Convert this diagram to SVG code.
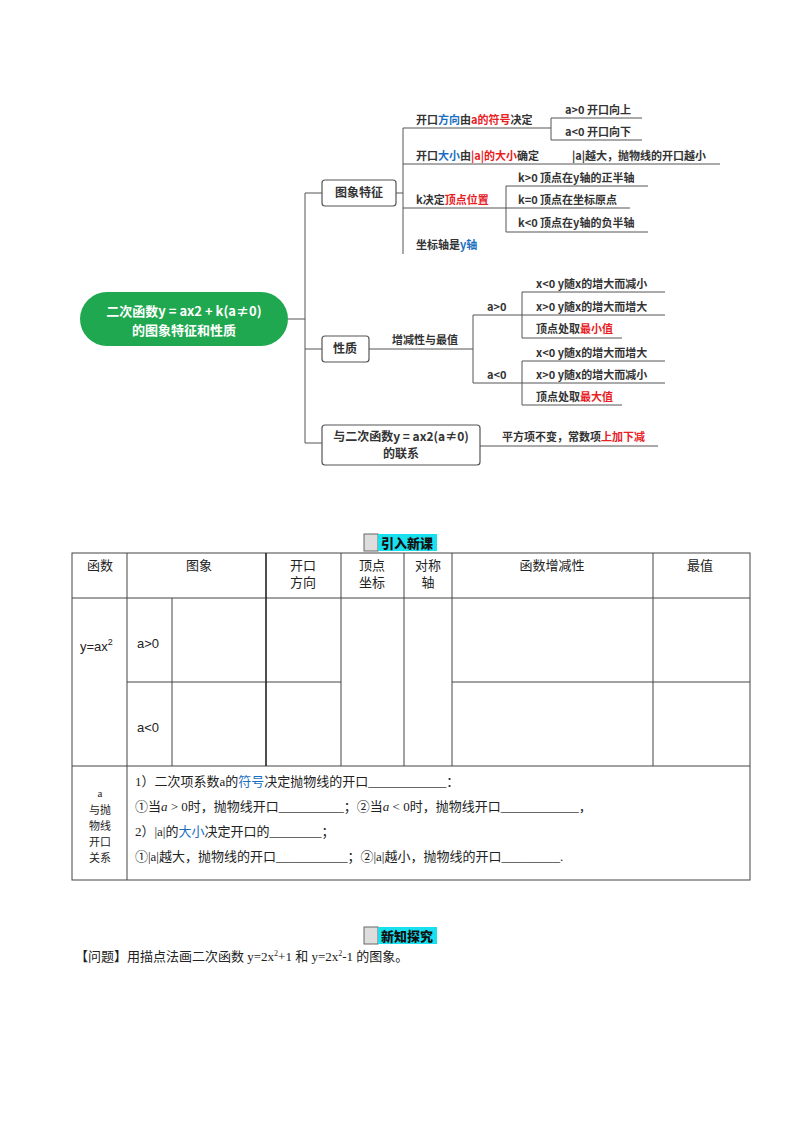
<svg xmlns="http://www.w3.org/2000/svg" width="800" height="1132" viewBox="0 0 800 1132">
<style>
.m{font-family:"Noto Sans CJK SC","Liberation Sans",sans-serif;font-size:11px;font-weight:bold;fill:#333}
.b{fill:#1a6fc0}.r{fill:#e8201f}
.ln{stroke:#555;stroke-width:1;fill:none}
.bx{fill:#fff;stroke:#555;stroke-width:1.2}
.t{font-family:"Liberation Serif","Noto Sans CJK SC",serif;font-size:13px;fill:#222}
.tb{stroke:#444;stroke-width:1;fill:none}
.tb2{stroke:#222;stroke-width:1.6}
</style>
<rect width="800" height="1132" fill="#fff"/>
<g id="connectors">
<path class="ln" d="M288 319H305M305 193V443M305 193H322M305 349H322M305 443H322"/>
<path class="ln" d="M396 193H403M403 128V254M403 128H551M551 118V140M551 118H642M551 140H642M403 164H720M403 208H506M506 186V232M506 186H648M506 208H630M506 232H648"/>
<path class="ln" d="M369 349H473M473 315V383M473 315H522M522 292V338M522 292H665M522 315H665M522 338H622M473 383H522M522 361V405M522 361H665M522 383H665M522 405H622"/>
<path class="ln" d="M480 446H658"/>
</g>
<g id="root">
<rect x="80" y="292" width="208" height="54" rx="27" fill="#1fa84f"/>
<text class="m" x="184" y="316" text-anchor="middle" style="fill:#fff;font-size:13px">二次函数y = ax2 + k(a≠0)</text>
<text class="m" x="184" y="335" text-anchor="middle" style="fill:#fff;font-size:13px">的图象特征和性质</text>
</g>
<g id="n-tuxiang">
<rect class="bx" x="322" y="180" width="74" height="26" rx="3"/>
<text class="m" x="359" y="197" text-anchor="middle" style="font-size:12px">图象特征</text>
<text class="m" x="416" y="124">开口<tspan class="b">方向</tspan>由<tspan class="r">a的符号</tspan>决定</text>
<text class="m" x="565" y="114">a&gt;0 开口向上</text>
<text class="m" x="565" y="136">a&lt;0 开口向下</text>
<text class="m" x="416" y="160">开口<tspan class="b">大小</tspan>由<tspan class="r">|a|的大小</tspan>确定</text>
<text class="m" x="572" y="160">|a|越大，抛物线的开口越小</text>
<text class="m" x="416" y="204">k决定<tspan class="r">顶点位置</tspan></text>
<text class="m" x="518" y="182">k&gt;0 顶点在y轴的正半轴</text>
<text class="m" x="518" y="204">k=0 顶点在坐标原点</text>
<text class="m" x="518" y="227">k&lt;0 顶点在y轴的负半轴</text>
<text class="m" x="416" y="249">坐标轴是<tspan class="b">y轴</tspan></text>
</g>
<g id="n-xingzhi">
<rect class="bx" x="322" y="336" width="47" height="26" rx="3"/>
<text class="m" x="345" y="353" text-anchor="middle" style="font-size:12px">性质</text>
<text class="m" x="392" y="344">增减性与最值</text>
<text class="m" x="487" y="311">a&gt;0</text>
<text class="m" x="536" y="288">x&lt;0  y随x的增大而减小</text>
<text class="m" x="536" y="311">x&gt;0  y随x的增大而增大</text>
<text class="m" x="536" y="333">顶点处取<tspan class="r">最小值</tspan></text>
<text class="m" x="487" y="379">a&lt;0</text>
<text class="m" x="536" y="357">x&lt;0  y随x的增大而增大</text>
<text class="m" x="536" y="379">x&gt;0  y随x的增大而减小</text>
<text class="m" x="536" y="401">顶点处取<tspan class="r">最大值</tspan></text>
</g>
<g id="n-lianxi">
<rect class="bx" x="322" y="425" width="158" height="40" rx="3"/>
<text class="m" x="401" y="441" text-anchor="middle" style="font-size:12px">与二次函数y = ax2(a≠0)</text>
<text class="m" x="401" y="458" text-anchor="middle" style="font-size:12px">的联系</text>
<text class="m" x="502" y="441">平方项不变，常数项<tspan class="r">上加下减</tspan></text>
</g>
<g id="title1">
<rect x="364" y="534" width="14" height="17" fill="#ddd" stroke="#666"/>
<rect x="378" y="534" width="59" height="17" fill="#19e0ef"/>
<text x="407" y="548" text-anchor="middle" style="font-family:'Noto Sans CJK SC',sans-serif;font-size:13px;font-weight:900;fill:#111">引入新课</text>
</g>
<g id="table">
<rect class="tb" x="72" y="553" width="678" height="327"/>
<path class="tb" d="M72 598H750M127 682H341M452 682H750M72 766H750M127 553V880M172 598V766M341 553V766M404 553V766M452 553V766M653 553V766"/>
<path class="tb tb2" d="M266 553V766"/>
<g class="t">
<text x="100" y="570" text-anchor="middle">函数</text>
<text x="199" y="570" text-anchor="middle">图象</text>
<text x="303" y="570" text-anchor="middle">开口</text>
<text x="303" y="587" text-anchor="middle">方向</text>
<text x="372" y="570" text-anchor="middle">顶点</text>
<text x="372" y="587" text-anchor="middle">坐标</text>
<text x="428" y="570" text-anchor="middle">对称</text>
<text x="428" y="587" text-anchor="middle">轴</text>
<text x="552" y="570" text-anchor="middle">函数增减性</text>
<text x="700" y="570" text-anchor="middle">最值</text>
<text x="80" y="651" style="font-family:'Liberation Sans',sans-serif">y=ax<tspan dy="-6" font-size="9">2</tspan></text>
<text x="137" y="648" style="font-family:'Liberation Sans',sans-serif">a&gt;0</text>
<text x="137" y="732" style="font-family:'Liberation Sans',sans-serif">a&lt;0</text>
<g font-size="11" text-anchor="middle">
<text x="100" y="797">a</text><text x="100" y="814">与抛</text><text x="100" y="830">物线</text><text x="100" y="846">开口</text><text x="100" y="862">关系</text>
</g>
<text x="135" y="786">1）二次项系数a的<tspan class="b">符号</tspan>决定抛物线的开口____________：</text>
<text x="135" y="811">①当<tspan font-style="italic">a</tspan> &gt; 0时，抛物线开口__________；②当<tspan font-style="italic">a</tspan> &lt; 0时，抛物线开口____________，</text>
<text x="135" y="836">2）|a|的<tspan class="b">大小</tspan>决定开口的________；</text>
<text x="135" y="861">①|a|越大，抛物线的开口___________；②|a|越小，抛物线的开口_________.</text>
</g>
</g>
<g id="title2">
<rect x="364" y="927" width="14" height="17" fill="#ddd" stroke="#666"/>
<rect x="378" y="927" width="59" height="17" fill="#19e0ef"/>
<text x="407" y="941" text-anchor="middle" style="font-family:'Noto Sans CJK SC',sans-serif;font-size:13px;font-weight:900;fill:#111">新知探究</text>
</g>
<text class="t" x="75" y="961" style="font-size:13px">【问题】用描点法画二次函数  y=2x<tspan dy="-5" font-size="8">2</tspan><tspan dy="5">+1  和  y=2x</tspan><tspan dy="-5" font-size="8">2</tspan><tspan dy="5">-1 的图象。</tspan></text>
</svg>
